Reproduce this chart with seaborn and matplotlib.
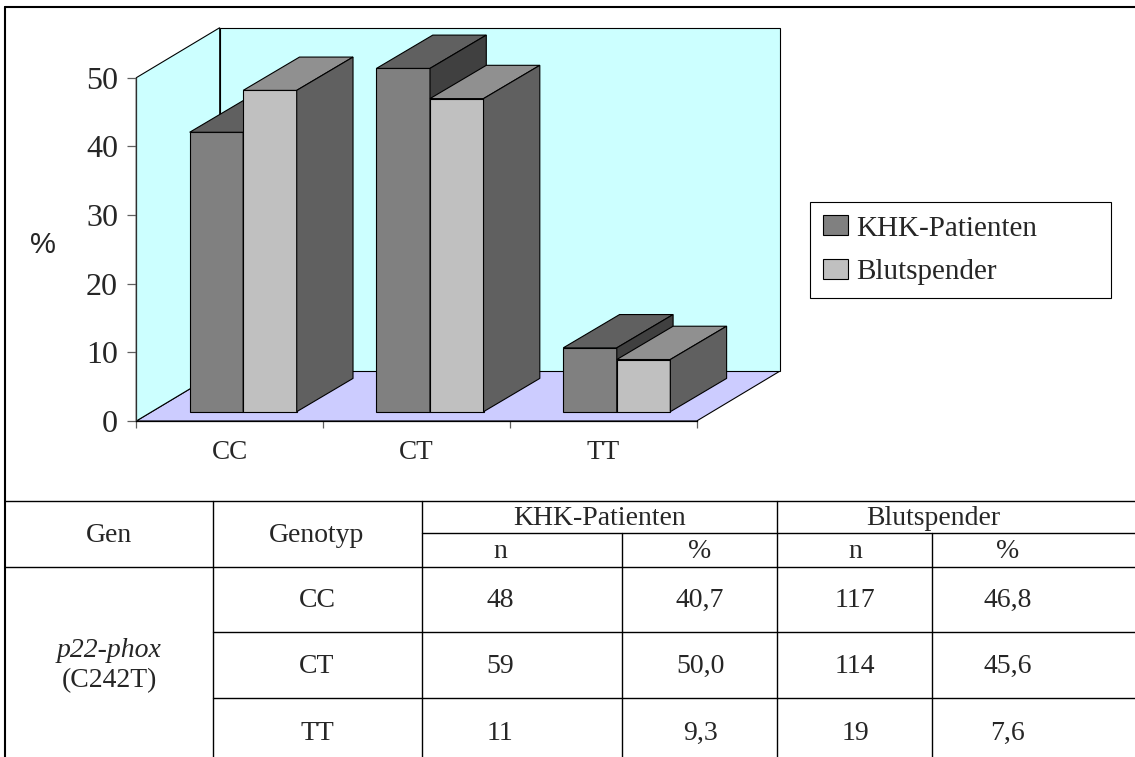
import matplotlib
matplotlib.use("Agg")
import matplotlib.pyplot as plt
from matplotlib.patches import Polygon, Patch
from matplotlib.lines import Line2D
from matplotlib.transforms import ScaledTranslation
import pandas as pd
import seaborn as sns

# ---- data -------------------------------------------------------------
genotypes = ["CC", "CT", "TT"]
groups = ["KHK-Patienten", "Blutspender"]
n_khk = [48, 59, 11]
pct_khk = [40.7, 50.0, 9.3]
n_blut = [117, 114, 19]
pct_blut = [46.8, 45.6, 7.6]
y_ticks = [0, 10, 20, 30, 40, 50]

# ---- style ------------------------------------------------------------
front_colors = ["#808080", "#C0C0C0"]
top_colors = ["#606060", "#909090"]
side_colors = ["#404040", "#606060"]
wall_color = "#CCFFFF"
floor_color = "#CCCCFF"

W, H, DPI = 1135, 757, 100

sns.set_theme(style="white")
plt.rcParams["font.family"] = ["Liberation Serif", "DejaVu Serif"]

fig = plt.figure(figsize=(W / DPI, H / DPI), dpi=DPI)
fig.patch.set_facecolor("white")


def fx(x):
    return x / W


def fy(y):
    return 1 - y / H


# background layer in pixel coordinates (frame + table)
bg = fig.add_axes([0, 0, 1, 1])
bg.set_xlim(0, W)
bg.set_ylim(H, 0)
bg.axis("off")

# ---- chart axes (front plane of the 3-D box) ---------------------------
ax_l, ax_r, ax_t, ax_b = 136.3, 696.7, 77.7, 421.0
ax = fig.add_axes([fx(ax_l), fy(ax_b), (ax_r - ax_l) / W, (ax_b - ax_t) / H])
ax.set_facecolor("none")

df = pd.DataFrame({
    "Genotyp": genotypes * 2,
    "Gruppe": [groups[0]] * len(genotypes) + [groups[1]] * len(genotypes),
    "Prozent": pct_khk + pct_blut,
})
sns.barplot(data=df, x="Genotyp", y="Prozent", hue="Gruppe",
            order=genotypes, hue_order=groups, palette=front_colors,
            saturation=1, width=0.573, edgecolor="black", linewidth=0.8,
            errorbar=None, legend=False, ax=ax)
ax.set_xlim(-0.5, len(genotypes) - 0.5)
ax.set_ylim(y_ticks[0], y_ticks[-1])

# pixel -> data unit factors
ux = (ax.get_xlim()[1] - ax.get_xlim()[0]) / (ax_r - ax_l)
uy = (ax.get_ylim()[1] - ax.get_ylim()[0]) / (ax_b - ax_t)

depth_px = (83.4, 50.0)      # depth of the whole box
shift_px = (13.5, 9.3)       # bar front plane behind the axis plane
bar_depth_px = (56.3, 33.3)  # depth of a single bar

Dx, Dy = depth_px[0] * ux, depth_px[1] * uy
Sx, Sy = shift_px[0] * ux, shift_px[1] * uy
Bx, By = bar_depth_px[0] * ux, bar_depth_px[1] * uy

x0, x1 = ax.get_xlim()
y0, y1 = ax.get_ylim()
wall_kw = dict(edgecolor="black", linewidth=0.8, clip_on=False)
ax.add_patch(Polygon([(x0, y0), (x1, y0), (x1 + Dx, y0 + Dy), (x0 + Dx, y0 + Dy)],
                     facecolor=floor_color, zorder=0.2, **wall_kw))
ax.add_patch(Polygon([(x0, y0), (x0, y1), (x0 + Dx, y1 + Dy), (x0 + Dx, y0 + Dy)],
                     facecolor=wall_color, zorder=0.3, **wall_kw))
ax.add_patch(Polygon([(x0 + Dx, y0 + Dy), (x1 + Dx, y0 + Dy),
                      (x1 + Dx, y1 + Dy), (x0 + Dx, y1 + Dy)],
                     facecolor=wall_color, zorder=0.3, **wall_kw))

# give each seaborn bar a 3-D body: shift it back and add top and side faces
offset = ScaledTranslation(shift_px[0] / DPI, shift_px[1] / DPI, fig.dpi_scale_trans)
face_kw = dict(edgecolor="black", linewidth=0.8, clip_on=False)
for i, cont in enumerate(ax.containers):
    z = 1 + i
    for bar in cont:
        bx, bw, bh = bar.get_x(), bar.get_width(), bar.get_height()
        bar.set_transform(ax.transData + offset)
        bar.set_clip_on(False)
        bar.set_zorder(z)
        fl, fr, fb, ft = bx + Sx, bx + bw + Sx, Sy, bh + Sy
        ax.add_patch(Polygon([(fl, ft), (fr, ft), (fr + Bx, ft + By), (fl + Bx, ft + By)],
                             facecolor=top_colors[i], zorder=z + 0.1, **face_kw))
        ax.add_patch(Polygon([(fr, fb), (fr, ft), (fr + Bx, ft + By), (fr + Bx, fb + By)],
                             facecolor=side_colors[i], zorder=z + 0.1, **face_kw))

# axes lines and ticks
for s in ("top", "right"):
    ax.spines[s].set_visible(False)
ax.spines["left"].set_color("#303030")
ax.spines["bottom"].set_color("black")
for s in ("left", "bottom"):
    ax.spines[s].set_linewidth(0.9)
    ax.spines[s].set_zorder(5)

ax.set_yticks(y_ticks)
ax.set_yticklabels([str(t) for t in y_ticks])
ax.tick_params(axis="y", direction="out", length=6.5, width=0.9, color="#606060",
               pad=6.7, labelsize=23, left=True)
ax.set_xticks(range(len(genotypes)))
ax.set_xticklabels(genotypes)
ax.set_xticks([k - 0.5 for k in range(len(genotypes) + 1)], minor=True)
ax.tick_params(axis="x", which="major", length=0, pad=14, labelsize=19.5)
ax.tick_params(axis="x", which="minor", direction="out", length=5, width=0.9,
               color="#606060", bottom=True)
ax.set_xlabel("")
ax.set_ylabel("%", rotation=0, fontsize=21, family=["Liberation Sans", "DejaVu Sans"],
              va="center", ha="center")
ax.yaxis.set_label_coords((42.5 - ax_l) / (ax_r - ax_l), (ax_b - 245) / (ax_b - ax_t))

# legend
handles = [Patch(facecolor=c, edgecolor="black", linewidth=0.8) for c in front_colors]
leg = fig.legend(handles, groups, loc="upper left",
                 bbox_to_anchor=(fx(810), fy(305.7), (1111 - 810) / W, (305.7 - 202.3) / H),
                 bbox_transform=fig.transFigure, mode="expand", fontsize=21,
                 frameon=True, fancybox=False, framealpha=1, edgecolor="black",
                 handlelength=0.85, handleheight=0.67, handletextpad=0.28,
                 borderpad=0.45, labelspacing=0.6, borderaxespad=0)
leg.get_frame().set_linewidth(0.8)

# ---- outer frame --------------------------------------------------------
bg.add_line(Line2D([5, W], [7, 7], color="black", linewidth=1.5))
bg.add_line(Line2D([5, 5], [7, H], color="black", linewidth=1.5))

# ---- table ----------------------------------------------------------------
c_gen, c_geno, c_kn, c_kp, c_bn, c_bp = 5, 213, 421.7, 622, 777, 932
r_top, r_sub, r_head, r1, r2 = 500.7, 533, 567, 632, 698
line_kw = dict(color="black", linewidth=1.0)
for y, xa in ((r_top, 5), (r_sub, c_kn), (r_head, 5), (r1, c_geno), (r2, c_geno)):
    bg.add_line(Line2D([xa, W], [y, y], **line_kw))
for x, ya in ((c_geno, r_top), (c_kn, r_top), (c_kp, r_sub), (c_bn, r_top), (c_bp, r_sub)):
    bg.add_line(Line2D([x, x], [ya, H], **line_kw))

tkw = dict(fontsize=20, ha="center", va="baseline")
bg.text(109, 541.7, "Gen", **tkw)
bg.text(317, 542, "Genotyp", **tkw)
bg.text(599.4, 525, groups[0], **tkw)
bg.text(933, 525, groups[1], **tkw)
for x, s in ((500, "n"), (700, "%"), (855, "n"), (1008, "%")):
    bg.text(x, 558, s, **tkw)


def fmt(v):
    return f"{v:.1f}".replace(".", ",")


row_base = [607.3, 673.3, 740]
for k, g in enumerate(genotypes):
    yb = row_base[k]
    bg.text(317, yb, g, **tkw)
    bg.text(500, yb, str(n_khk[k]), **tkw)
    bg.text(700, yb, fmt(pct_khk[k]), **tkw)
    bg.text(855, yb, str(n_blut[k]), **tkw)
    bg.text(1008, yb, fmt(pct_blut[k]), **tkw)
bg.text(109, 657, "p22-phox", style="italic", **tkw)
bg.text(109, 687, "(C242T)", **tkw)

fig.savefig("out.png", dpi=DPI, facecolor="white")
